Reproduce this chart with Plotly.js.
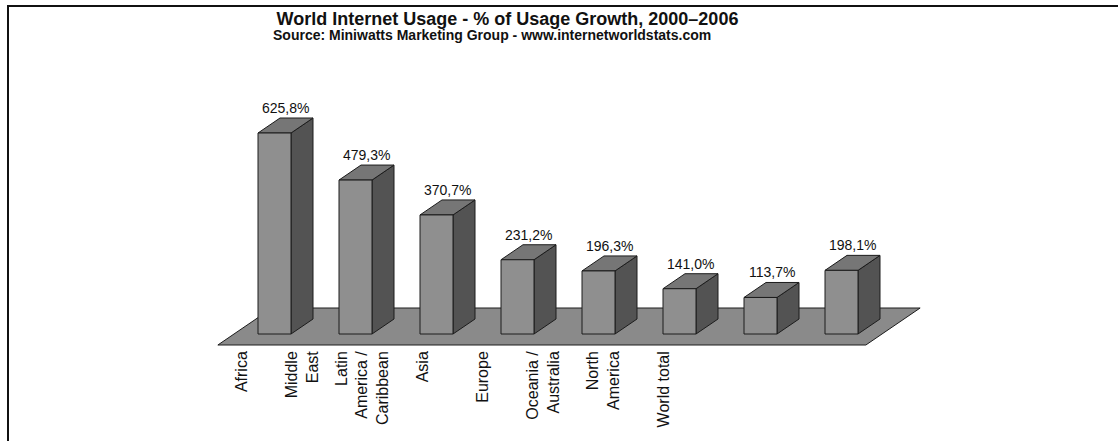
<!DOCTYPE html>
<html>
<head>
<meta charset="utf-8">
<script src="https://cdn.plot.ly/plotly-3.0.1.min.js"></script>
<style>
  html, body { margin: 0; padding: 0; background: #fff; }
  #wrap { position: relative; width: 1118px; height: 441px; }
  #chart { width: 1118px; height: 441px; }
  #frame { position: absolute; left: 7px; top: 5px; width: 1111px; height: 436px;
           border-top: 2px solid #111; border-left: 2px solid #111; pointer-events: none; box-sizing: border-box; }
</style>
</head>
<body>
<div id="wrap">
  <div id="chart"></div>
  <div id="frame"></div>
</div>
<script>
// ---- data ----
const categories = ["Africa", "Middle<br>East", "Latin<br>America /<br>Caribbean", "Asia", "Europe",
                    "Oceania /<br>Australia", "North<br>America", "World total"];
const growth = [625.8, 479.3, 370.7, 231.2, 196.3, 141.0, 113.7, 198.1];
const valueLabels = growth.map(v => v.toFixed(1).replace('.', ',') + '%');

// ---- geometry (pixels) ----
const W = 1118, H = 441;
const plotL = 153, plotW = 810, plotT = 90, plotH = 257;
const xRange = [-1.5, 8.5];
const pxPerX = plotW / (xRange[1] - xRange[0]);
const yPx0 = 244;                      // pixels from plot top down to value 0
const pxPerY = 201 / 625.8;
const yRange = [-(plotH - yPx0) / pxPerY, yPx0 / pxPerY];

const DXpx = 22, DYpx = 15;            // depth offset of bars
const dxu = DXpx / pxPerX, dyu = DYpx / pxPerY;
const hw = 16.5 / pxPerX;              // half bar width
const slope = DXpx / DYpx;

const idx = growth.map((_, i) => i);

// label axis (tick labels sit on a compressed axis, as in the 3D original)
const lblStart = 241.6 - plotL, lblStep = 60.3;
const x2Range = [-lblStart / lblStep, (plotW - lblStart) / lblStep];

const cFront = '#8f8f8f', cSide = '#535353', cTop = '#767676', cFloor = '#8a8a8a', cEdge = '#1c1c1c';

const shapes = [];
// floor
const n = growth.length;
const fF = 11, fB = 26; // px in front / behind bar front plane
const fy = -fF / pxPerY, by = fB / pxPerY;
const fx = -fF * slope / pxPerX, bx = fB * slope / pxPerX;
shapes.push({
  type: 'path', xref: 'x', yref: 'y', layer: 'below',
  path: `M ${-0.5 + fx} ${fy} L ${n - 0.5 + fx} ${fy} L ${n - 0.5 + bx} ${by} L ${-0.5 + bx} ${by} Z`,
  fillcolor: cFloor, line: { color: cEdge, width: 1 }
});
idx.forEach(i => {
  const v = growth[i];
  // side face
  shapes.push({
    type: 'path', xref: 'x', yref: 'y', layer: 'below',
    path: `M ${i + hw} 0 L ${i + hw + dxu} ${dyu} L ${i + hw + dxu} ${v + dyu} L ${i + hw} ${v} Z`,
    fillcolor: cSide, line: { color: cEdge, width: 1 }
  });
  // top face
  shapes.push({
    type: 'path', xref: 'x', yref: 'y', layer: 'below',
    path: `M ${i - hw} ${v} L ${i + hw} ${v} L ${i + hw + dxu} ${v + dyu} L ${i - hw + dxu} ${v + dyu} Z`,
    fillcolor: cTop, line: { color: cEdge, width: 1 }
  });
});

const annotations = idx.map(i => ({
  x: i + dxu / 2, y: growth[i] + dyu, xref: 'x', yref: 'y',
  text: valueLabels[i], showarrow: false, xanchor: 'center', yanchor: 'bottom',
  font: { family: 'Liberation Sans, Arial, sans-serif', size: 14, color: '#111' }
}));
annotations.push({
  xref: 'paper', yref: 'paper', x: (491.5 - plotL) / plotW, y: 1 + (plotT - 35) / plotH,
  xanchor: 'center', yanchor: 'middle', showarrow: false,
  text: 'Source: Miniwatts Marketing Group - www.internetworldstats.com',
  font: { family: 'Liberation Sans, Arial, sans-serif', size: 14, color: '#111', weight: 'bold' }
});

const traces = [
  {
    type: 'bar', x: idx, y: growth, width: 2 * hw, xaxis: 'x', yaxis: 'y',
    marker: { color: cFront, line: { color: cEdge, width: 1 } },
    hoverinfo: 'skip', showlegend: false
  },
  {
    type: 'scatter', mode: 'markers', x: idx, y: growth.map(() => 0), xaxis: 'x2', yaxis: 'y',
    marker: { opacity: 0, size: 1 }, hoverinfo: 'skip', showlegend: false
  }
];

const layout = {
  width: W, height: H,
  margin: { l: plotL, r: W - plotL - plotW, t: plotT, b: H - plotT - plotH, pad: 0 },
  paper_bgcolor: '#fff', plot_bgcolor: '#fff',
  font: { family: 'Liberation Sans, Arial, sans-serif', color: '#111' },
  title: {
    text: 'World Internet Usage - % of Usage Growth, 2000–2006',
    x: 507.5 / W, xanchor: 'center', xref: 'container',
    y: 1 - 12 / H, yanchor: 'top', yref: 'container',
    font: { family: 'Liberation Sans, Arial, sans-serif', size: 18, color: '#111', weight: 'bold' }
  },
  xaxis: { range: xRange, showgrid: false, zeroline: false, showline: false, showticklabels: false, ticks: '', fixedrange: true },
  xaxis2: {
    range: x2Range, overlaying: 'x', anchor: 'y', side: 'bottom',
    tickmode: 'array', tickvals: idx, ticktext: categories, tickangle: -90,
    showgrid: false, zeroline: false, showline: false, ticks: '',
    tickfont: { family: 'Liberation Sans, Arial, sans-serif', size: 16, color: '#111' }
  },
  yaxis: { range: yRange, visible: false, showgrid: false, zeroline: false, fixedrange: true },
  shapes: shapes,
  annotations: annotations,
  showlegend: false,
  bargap: 0
};

Plotly.newPlot('chart', traces, layout, { displayModeBar: false, staticPlot: true });
</script>
</body>
</html>
